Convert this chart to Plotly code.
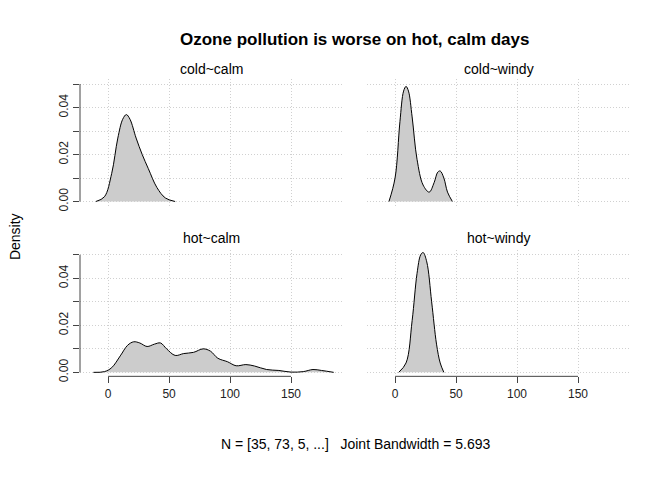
import plotly.graph_objects as go

W, H = 672, 480
OFF = 8  # browser body margin

# density curves (x, density)
cold_calm_x = [-10, -3, 3, 8, 12, 15, 18, 23, 28, 33, 40, 47, 55]
cold_calm_y = [0.0, 0.002, 0.012, 0.027, 0.035, 0.037, 0.035, 0.027, 0.020, 0.014, 0.006, 0.0015, 0.0]
cold_windy_x = [-5, 0, 4, 7, 9, 11, 14, 18, 23, 28, 32, 35, 37, 40, 43, 47]
cold_windy_y = [0.0, 0.010, 0.034, 0.047, 0.049, 0.047, 0.036, 0.018, 0.007, 0.004, 0.008, 0.0125, 0.013, 0.010, 0.004, 0.0]
hot_calm_x = [-12, -3, 3, 10, 16, 21, 26, 32, 38, 43, 48, 55, 62, 70, 78, 84, 90, 98, 105, 113, 120, 130, 140, 150, 160, 168, 175, 185]
hot_calm_y = [0.0, 0.0003, 0.002, 0.007, 0.0115, 0.013, 0.0125, 0.011, 0.012, 0.0125, 0.010, 0.0072, 0.008, 0.0085, 0.010, 0.009, 0.006, 0.0045, 0.0028, 0.0033, 0.0027, 0.0012, 0.0008, 0.0001, 0.0003, 0.0012, 0.0008, 0.0]
hot_windy_x = [3, 9, 14, 18, 21, 23, 26, 30, 34, 37, 40]
hot_windy_y = [0.0, 0.004, 0.022, 0.042, 0.050, 0.051, 0.047, 0.030, 0.012, 0.004, 0.0]

panels = [
    ("cold~calm", cold_calm_x, cold_calm_y),
    ("cold~windy", cold_windy_x, cold_windy_y),
    ("hot~calm", hot_calm_x, hot_calm_y),
    ("hot~windy", hot_windy_x, hot_windy_y),
]
x_ticks = [0, 50, 100, 150]
y_vals = [0.0, 0.01, 0.02, 0.03, 0.04, 0.05]
y_text = ["0.00", "", "0.02", "", "0.04", ""]

FONT = "Liberation Sans, Arial, sans-serif"

def fx(x):
    return (x - OFF) / W

def fy(y):
    return 1 - (y - OFF) / H

xdoms = [[fx(80), fx(343)], [fx(367), fx(630)]]
ydoms = [[fy(208), fy(80)], [fy(381), fy(253)]]
xr = [-23, 192.6]
yr = [-0.0017, 0.0521]

fig = go.Figure()
layout = {}
shapes = []
annotations = []
for i, (name, xs, ys) in enumerate(panels):
    r, c = divmod(i, 2)
    n = i + 1
    sx = "" if n == 1 else str(n)
    fig.add_trace(go.Scatter(
        x=xs, y=ys, mode="lines", line=dict(color="black", width=1, shape="spline", smoothing=1.0),
        fill="tozeroy", fillcolor="#cccccc", showlegend=False,
        xaxis="x" + sx, yaxis="y" + sx))
    layout["xaxis" + sx] = dict(
        domain=xdoms[c], range=xr, anchor="y" + sx, tickvals=x_ticks,
        showticklabels=(r == 1), ticks="outside" if r == 1 else "", ticklen=6,
        tickcolor="#444", showline=False, zeroline=False,
        showgrid=True, gridcolor="#d0d0d0", griddash="1px,2px", gridwidth=1,
        tickfont=dict(size=12, color="#222", family=FONT))
    layout["yaxis" + sx] = dict(
        domain=ydoms[r], range=yr, anchor="x" + sx, tickvals=y_vals,
        ticktext=y_text, showticklabels=(c == 0), ticks="outside" if c == 0 else "",
        ticklen=6, tickcolor="#444", tickangle=-90, showline=False, zeroline=False,
        showgrid=True, gridcolor="#d0d0d0", griddash="1px,2px", gridwidth=1,
        tickfont=dict(size=12, color="#222", family=FONT))
    if c == 0:
        shapes.append(dict(type="line", xref="paper", yref="y" + sx, x0=xdoms[0][0], x1=xdoms[0][0],
                           y0=0, y1=0.05, line=dict(color="#444", width=1)))
    if r == 1:
        shapes.append(dict(type="line", xref="x" + sx, yref="paper", x0=0, x1=150,
                           y0=ydoms[1][0], y1=ydoms[1][0], line=dict(color="#444", width=1)))
    annotations.append(dict(text=name, x=sum(xdoms[c]) / 2, y=fy(70) if r == 0 else fy(241),
                            xref="paper", yref="paper",
                            xanchor="center", yanchor="middle", showarrow=False,
                            font=dict(size=14, color="black", family=FONT)))

annotations += [
    dict(text="<b>Ozone pollution is worse on hot, calm days</b>", x=fx(355), y=fy(40),
         xanchor="center", yanchor="middle",
         xref="paper", yref="paper", showarrow=False, font=dict(size=17, color="black", family=FONT)),
    dict(text="Density", x=fx(15), y=fy(240), xref="paper", yref="paper", textangle=-90,
         xanchor="center", yanchor="middle",
         showarrow=False, font=dict(size=14, color="black", family=FONT)),
    dict(text="N = [35, 73, 5, ...]   Joint Bandwidth = 5.693", x=fx(355), y=fy(450),
         xanchor="center", yanchor="middle",
         xref="paper", yref="paper", showarrow=False, font=dict(size=14, color="black", family=FONT)),
]

fig.update_layout(width=W, height=H, margin=dict(l=0, r=0, t=0, b=0),
                  paper_bgcolor="white", plot_bgcolor="white",
                  shapes=shapes, annotations=annotations, **layout)
fig.write_html("out.html")
